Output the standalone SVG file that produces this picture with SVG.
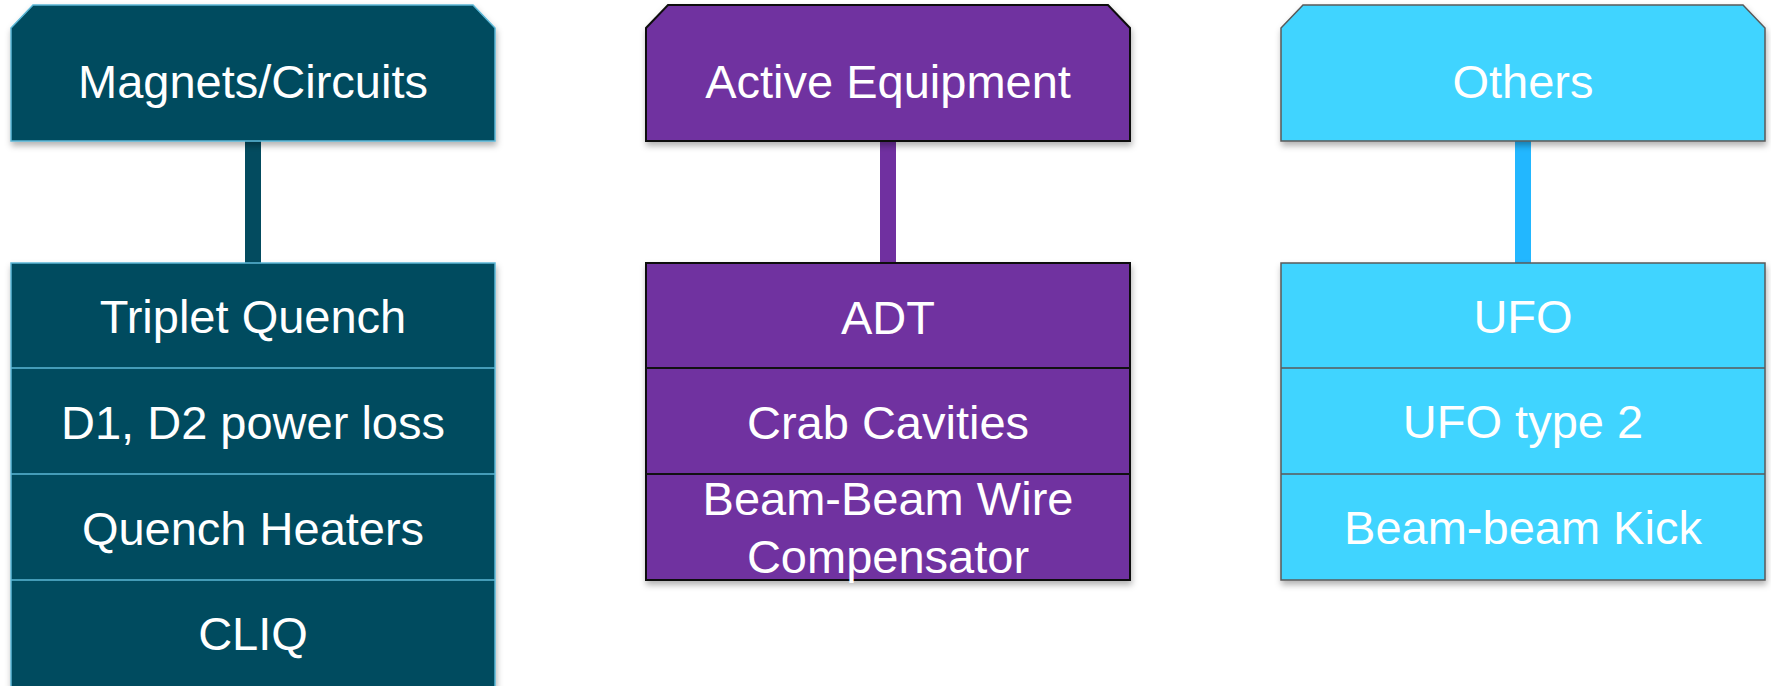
<svg xmlns="http://www.w3.org/2000/svg" width="1771" height="686" viewBox="0 0 1771 686">
<style>
.t{font-family:"Liberation Sans",Arial,sans-serif;font-size:47px;fill:#ffffff;text-anchor:middle}
.c1{fill:#034B5F;stroke:#5BB7D6;stroke-width:1.5}
.c2{fill:#7030A0;stroke:#111111;stroke-width:2}
.c3{fill:#41D4FF;stroke:#5A5A5A;stroke-width:1.5}
</style>
<defs>
<filter id="sh" x="-5%" y="-5%" width="110%" height="120%">
<feDropShadow dx="1" dy="4" stdDeviation="3" flood-color="#000" flood-opacity="0.3"/>
</filter>
</defs>
<rect width="1771" height="686" fill="#ffffff"/>
<g id="connectors">
<rect x="245" y="141" width="16" height="122" fill="#034B5F"/>
<rect x="880" y="141" width="16" height="122" fill="#7030A0"/>
<rect x="1515" y="141" width="16" height="122" fill="#22B7FF"/>
</g>
<g id="magnets-header">
<polygon class="c1" filter="url(#sh)" points="33,5 473,5 495,28 495,141 11,141 11,28"/>
<text class="t" x="253" y="98">Magnets/Circuits</text>
</g>
<g id="magnets-list">
<rect class="c1" filter="url(#sh)" x="11" y="263" width="484" height="424"/>
<line x1="11" y1="368" x2="495" y2="368" stroke="#5BB7D6" stroke-width="1.5"/>
<line x1="11" y1="474" x2="495" y2="474" stroke="#5BB7D6" stroke-width="1.5"/>
<line x1="11" y1="580" x2="495" y2="580" stroke="#5BB7D6" stroke-width="1.5"/>
<text class="t" x="253" y="333">Triplet Quench</text>
<text class="t" x="253" y="439">D1, D2 power loss</text>
<text class="t" x="253" y="545">Quench Heaters</text>
<text class="t" x="253" y="650">CLIQ</text>
</g>
<g id="active-header">
<polygon class="c2" filter="url(#sh)" points="668,5 1108,5 1130,28 1130,141 646,141 646,28"/>
<text class="t" x="888" y="98">Active Equipment</text>
</g>
<g id="active-list">
<rect class="c2" filter="url(#sh)" x="646" y="263" width="484" height="317"/>
<line x1="646" y1="368" x2="1130" y2="368" stroke="#111111" stroke-width="2"/>
<line x1="646" y1="474" x2="1130" y2="474" stroke="#111111" stroke-width="2"/>
<text class="t" x="888" y="334">ADT</text>
<text class="t" x="888" y="439">Crab Cavities</text>
<text class="t" x="888" y="515">Beam-Beam Wire</text>
<text class="t" x="888" y="573">Compensator</text>
</g>
<g id="others-header">
<polygon class="c3" filter="url(#sh)" points="1303,5 1743,5 1765,28 1765,141 1281,141 1281,28"/>
<text class="t" x="1523" y="98">Others</text>
</g>
<g id="others-list">
<rect class="c3" filter="url(#sh)" x="1281" y="263" width="484" height="317"/>
<line x1="1281" y1="368" x2="1765" y2="368" stroke="#5A5A5A" stroke-width="1.5"/>
<line x1="1281" y1="474" x2="1765" y2="474" stroke="#5A5A5A" stroke-width="1.5"/>
<text class="t" x="1523" y="333">UFO</text>
<text class="t" x="1523" y="438">UFO type 2</text>
<text class="t" x="1523" y="544">Beam-beam Kick</text>
</g>
</svg>
